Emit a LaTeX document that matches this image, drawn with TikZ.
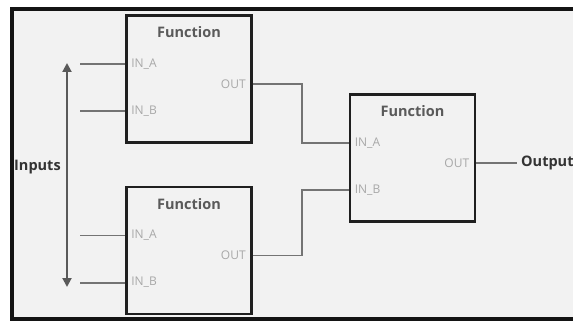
\documentclass[tikz,border=0pt]{standalone}
\usepackage{fontspec}
\setmainfont{Open Sans}
\usetikzlibrary{arrows.meta}
\definecolor{paper}{HTML}{F2F2F2}
\definecolor{wirec}{HTML}{747474}
\definecolor{pinc}{HTML}{A8A8A8}
\definecolor{titlec}{HTML}{5A5A5A}
\definecolor{labelc}{HTML}{333333}
\begin{document}
\begin{tikzpicture}[x=1pt,y=-1pt,
  fbox/.style={draw=black!88, line width=2.8pt, fill=paper,
    minimum width=125pt, minimum height=127pt, inner sep=0pt},
  ftitle/.style={font=\bfseries\fontsize{14.5}{16}\selectfont, text=titlec, inner sep=0pt},
  pinl/.style={font=\fontsize{12}{13}\selectfont, text=pinc, inner sep=0pt},
  wire/.style={draw=wirec, line width=1.8pt},
  biglabel/.style={font=\bfseries\fontsize{14.5}{16}\selectfont, text=labelc, inner sep=0pt}]
\useasboundingbox (0,0) rectangle (573,323);
\clip (0,0) rectangle (573,323);
% sheet and frame
\fill[white] (0,0) rectangle (573,323);
\draw[line width=4pt, draw=black!92, fill=paper] (12,9) rectangle (600,319);

% function blocks
\foreach \n/\cx/\cy in {f1/189/79, f2/189/250.5, f3/412.5/158}{
  \node[fbox] (\n) at (\cx,\cy) {};
  \node[ftitle] (\n t) at ([yshift=-18pt]\n.north) {Function};
  \coordinate (\n a) at ([yshift=-50pt]\n.north west);
  \coordinate (\n b) at ([yshift=-97pt]\n.north west);
  \coordinate (\n o) at ([yshift=-70pt]\n.north east);
  \node[pinl, anchor=west] (\n la) at ([xshift=6pt]\n a) {IN\_A};
  \node[pinl, anchor=west] (\n lb) at ([xshift=6pt]\n b) {IN\_B};
  \node[pinl, anchor=east] (\n lo) at ([xshift=-7pt]\n o) {OUT};
}

% input stubs
\coordinate (instub) at (80,0);
\foreach \p in {f1a,f1b,f2a,f2b}{
  \draw[wire] (\p) -- (\p -| instub);
}

% connections into the second stage
\coordinate (join) at (302,0);
\draw[wire] (f1o) -- (f1o -| join) |- (f3a);
\draw[wire] (f2o) -- (f2o -| join) |- (f3b);

% output
\coordinate (outend) at (517,165);
\draw[wire] (f3o) -- (f3o -| outend);
\node[biglabel, anchor=west] (outlbl) at ([xshift=4pt]f3o -| outend) {Output};

% inputs arrow
\coordinate (arrtop) at (67,63);
\coordinate (arrbot) at (67,287);
\draw[line width=2pt, draw=titlec, {Triangle[width=9pt,length=9pt]}-{Triangle[width=9pt,length=9pt]}] (arrtop) -- (arrbot);
\node[biglabel, anchor=west, fill=paper, inner xsep=0pt] (inlbl) at (14,167) {Inputs};
\end{tikzpicture}
\end{document}
